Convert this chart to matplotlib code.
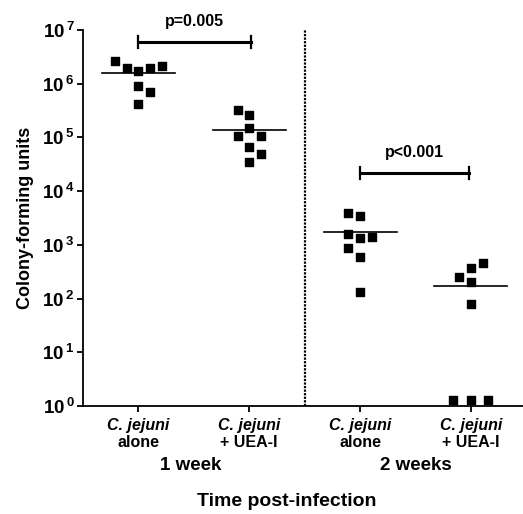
import numpy as np
import matplotlib
matplotlib.use("Agg")
import matplotlib.pyplot as plt

plt.rcParams['font.family'] = ['Liberation Sans', 'DejaVu Sans']
plt.rcParams['font.weight'] = 'bold'
plt.rcParams['mathtext.fontset'] = 'custom'
plt.rcParams['mathtext.bf'] = 'Liberation Sans:bold'
plt.rcParams['mathtext.rm'] = 'Liberation Sans:bold'

# data (CFU per mouse)
alone_1wk = [2.6e6, 2.0e6, 1.7e6, 2.0e6, 2.1e6, 9.1e5, 7.1e5, 4.2e5]
uea_1wk = [3.2e5, 2.6e5, 1.5e5, 1.05e5, 1.05e5, 6.6e4, 4.9e4, 3.5e4]
alone_2wk = [3.9e3, 3.4e3, 1.58e3, 1.35e3, 1.38e3, 890, 590, 133]
uea_2wk = [455, 365, 252, 200, 79, 1.3, 1.3, 1.3]
medians = [1.6e6, 1.38e5, 1.7e3, 170]
p_values = ["p=0.005", "p<0.001"]
groups_top = ["C. jejuni"] * 4
groups_bottom = ["alone", "+ UEA-I", "alone", "+ UEA-I"]
timepoints = ["1 week", "2 weeks"]

# column slots for the scatter (dot plot layout)
cols = [
    [-2, -1, 0, 1, 2, 0, 1, 0],
    [-1, 0, 0, -1, 1, 0, 1, 0],
    [-1, 0, -1, 0, 1, -1, 0, 0],
    [1, 0, -1, 0, 0, -1.5, 0, 1.5],
]
groups = [alone_1wk, uea_1wk, alone_2wk, uea_2wk]

fig = plt.figure(figsize=(5.23, 5.14), dpi=100)
ax = fig.add_axes([0.1587, 0.2101, 0.8413, 0.7315])

for i, vals in enumerate(groups):
    x = i + 1 + np.array(cols[i]) * 0.105
    ax.scatter(x, vals, marker='s', s=34, color='black', zorder=3, clip_on=False)
    ax.plot([i + 1 - 0.33, i + 1 + 0.33], [medians[i]] * 2, color='black', lw=1.2)

ax.set_yscale('log')
ax.set_ylim(1, 1e7)
ax.set_xlim(0.5, 4.47)
ax.set_yticks([10.0 ** k for k in range(8)])
ax.set_yticklabels([r'$\mathbf{10^{\,%d}}$' % k for k in range(8)], fontsize=13.5)
ax.minorticks_off()
ax.set_xticks([1, 2, 3, 4])
ax.set_xticklabels([])

trans = ax.get_xaxis_transform()
for i in range(4):
    ax.text(i + 1, -0.033, groups_top[i], transform=trans, ha='center', va='top',
            fontsize=11.5, fontweight='bold', fontstyle='italic')
    ax.text(i + 1, -0.078, groups_bottom[i], transform=trans, ha='center', va='top',
            fontsize=11.5, fontweight='bold')

for s in ['top', 'right']:
    ax.spines[s].set_visible(False)
for s in ['left', 'bottom']:
    ax.spines[s].set_linewidth(1.3)
ax.tick_params(axis='both', direction='out', length=4, width=1.3, pad=2)

ax.axvline(2.5, color='black', lw=1.6, ls=(0, (1, 0.6)))

# significance brackets
for (x0, x1, y, txt) in [(1, 2.02, 6.0e6, p_values[0]), (3.0, 3.98, 2.2e4, p_values[1])]:
    ax.plot([x0, x1], [y, y], color='black', lw=2.2, clip_on=False)
    for xe in (x0, x1):
        ax.plot([xe, xe], [y / 1.28, y * 1.28], color='black', lw=1.6, clip_on=False)
    ax.text((x0 + x1) / 2, y * 1.75, txt, ha='center', va='bottom', fontsize=11.5,
            fontweight='bold')

ax.set_ylabel("Colony-forming units", fontsize=13, fontweight='bold', labelpad=6)

fig.text(191 / 523, 1 - 465 / 514, timepoints[0], ha='center', va='center',
         fontsize=13.5, fontweight='bold')
fig.text(416 / 523, 1 - 465 / 514, timepoints[1], ha='center', va='center',
         fontsize=13.5, fontweight='bold')
fig.text(287 / 523, 1 - 502 / 514, "Time post-infection", ha='center', va='center',
         fontsize=14, fontweight='bold')

fig.savefig("out.png", dpi=100)
